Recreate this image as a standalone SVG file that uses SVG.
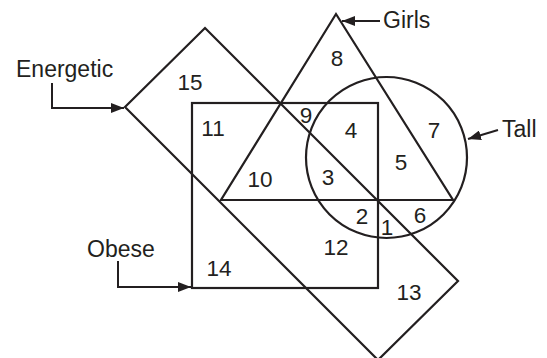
<svg xmlns="http://www.w3.org/2000/svg" width="547" height="358" viewBox="0 0 547 358">
<style>
.shape{fill:none;stroke:#231f20;stroke-width:2.2;stroke-linejoin:miter}
.conn{fill:none;stroke:#231f20;stroke-width:2}
.num{font-family:"Liberation Sans",Arial,sans-serif;font-size:22.5px;fill:#231f20;text-anchor:middle}
.lbl{font-family:"Liberation Sans",Arial,sans-serif;font-size:23px;fill:#231f20}
</style>
<defs>
<marker id="ah" markerUnits="userSpaceOnUse" markerWidth="14" markerHeight="10" refX="13" refY="5" orient="auto">
<path d="M0,0 L13,5 L0,10 z" fill="#231f20"/>
</marker>
</defs>
<rect width="547" height="358" fill="#ffffff"/>
<g id="energetic">
<polygon class="shape" points="205,28 458,281 378,360 125,107"/>
<text class="lbl" x="16" y="77">Energetic</text>
</g>
<g id="obese">
<rect class="shape" x="192" y="103" width="186" height="185"/>
<text class="lbl" x="87" y="257">Obese</text>
</g>
<g id="girls">
<polygon class="shape" points="336,14 453,200 221,200"/>
<text class="lbl" x="383" y="28">Girls</text>
</g>
<g id="tall">
<circle class="shape" cx="386.5" cy="157.5" r="80.5"/>
<text class="lbl" x="502" y="137">Tall</text>
</g>
<g id="regions">
<text class="num" x="190" y="90">15</text>
<text class="num" x="213" y="136">11</text>
<text class="num" x="337" y="66">8</text>
<text class="num" x="306" y="123">9</text>
<text class="num" x="351" y="138">4</text>
<text class="num" x="434" y="138">7</text>
<text class="num" x="401" y="170">5</text>
<text class="num" x="328" y="185">3</text>
<text class="num" x="260" y="187">10</text>
<text class="num" x="362" y="224">2</text>
<text class="num" x="387" y="235">1</text>
<text class="num" x="420" y="223">6</text>
<text class="num" x="336" y="255">12</text>
<text class="num" x="409" y="300">13</text>
<text class="num" x="219" y="276">14</text>
</g>
<g id="connectors">
<polyline class="conn" points="52,83 52,108 124,108" marker-end="url(#ah)"/>
<polyline class="conn" points="118,261 118,287 191,287" marker-end="url(#ah)"/>
<line class="conn" x1="380" y1="21" x2="342" y2="21" marker-end="url(#ah)"/>
<line class="conn" x1="498" y1="130" x2="468" y2="139" marker-end="url(#ah)"/>
</g>
</svg>
